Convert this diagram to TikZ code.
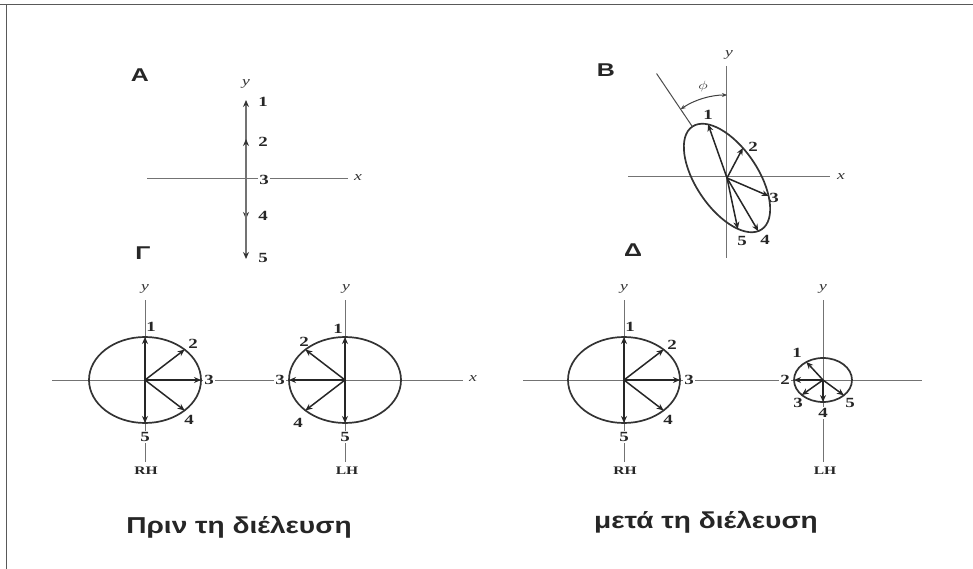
\documentclass[tikz,border=0pt]{standalone}
\usepackage{fontspec}
\setmainfont{Liberation Serif}
\newfontfamily\capfont{Liberation Sans}
\usetikzlibrary{arrows.meta}
\newcommand{\wx}[1]{\scalebox{1.35}[1]{#1}}
\newcommand{\wc}[1]{\scalebox{1.22}[1]{#1}}
\begin{document}
\begin{tikzpicture}[x=1pt,y=1pt,
 frame/.style={draw=black!65, line width=1.8pt},
 axis/.style={draw=black!55, line width=1pt},
 curve/.style={draw=black!80, line width=1.7pt},
 vec/.style={draw=black!85, line width=1.5pt, -{Stealth[length=7pt,width=6pt]}},
 vecA/.style={draw=black!55, line width=2.6pt, -{Stealth[length=7pt,width=6pt,color=black!80]}, shorten >=-1pt},
 thinl/.style={draw=black!70, line width=1pt},
 arcst/.style={draw=black!75, line width=1pt, {Stealth[length=5pt,width=4pt]}-{Stealth[length=5pt,width=4pt]}},
 num/.style={font=\fontsize{14}{14}\selectfont\bfseries, inner sep=1pt, text=black!85},
 numw/.style={num, fill=white},
 ax/.style={font=\fontsize{13}{13}\selectfont\itshape, inner sep=1pt, text=black!80},
 hand/.style={font=\fontsize{11.5}{11.5}\selectfont\bfseries, inner sep=1pt, text=black!85},
 panel/.style={font=\capfont\fontsize{18.5}{18.5}\selectfont\bfseries, inner sep=0pt, text=black!85},
 captext/.style={font=\capfont\fontsize{23}{23}\selectfont\bfseries, inner sep=0pt, text=black!85},
]
\useasboundingbox (0,0) rectangle (973,-569);
\fill[white] (0,0) rectangle (973,-569);

% frame
\coordinate (fTL) at (0,-4.5);
\coordinate (fTR) at (973,-4.5);
\coordinate (fLT) at (6.5,-4.5);
\coordinate (fLB) at (6.5,-569);
\draw[frame] (fTL) -- (fTR);
\draw[frame] (fLT) -- (fLB);

% ---------------- Panel A ----------------
\coordinate (AO) at (246,-179);
\coordinate (AxL) at (147,-179);
\coordinate (AxR) at (348,-179);
\coordinate (A1) at (246,-101);
\coordinate (A2) at (246,-140);
\coordinate (A4) at (246,-218);
\coordinate (A5) at (246,-258);
\draw[axis] (AxL) -- (AxR);
\draw[vecA] (AO) -- (A1);
\draw[vecA] (AO) -- (A2);
\draw[vecA] (AO) -- (A4);
\draw[vecA] (AO) -- (A5);
\node[panel] (pA) at (140,-75) {\wx{A}};
\node[ax] (Ay) at (246,-84) {\wx{y}};
\node[ax] (Ax) at (358,-178) {\wx{x}};
\node[num] (la1) at (263,-102) {\wx{1}};
\node[num] (la2) at (263,-142) {\wx{2}};
\node[numw] (la3) at (264,-180) {\wx{3}};
\node[num] (la4) at (263,-216) {\wx{4}};
\node[num] (la5) at (263,-258) {\wx{5}};

% ---------------- Panel B ----------------
\coordinate (BxL) at (628,-177);
\coordinate (BxR) at (830,-177);
\coordinate (ByT) at (726,-66);
\coordinate (ByB) at (726,-258);
\draw[axis] (BxL) -- (BxR);
\draw[axis] (ByT) -- (ByB);
\begin{scope}[shift={(727,-178)}, rotate=-56]
 \coordinate (BO) at (0,0);
 \draw[curve] (BO) ellipse [x radius=62, y radius=31];
 \coordinate (B1) at (152.5:62 and 31);
 \coordinate (B2) at (105:62 and 31);
 \coordinate (B3) at (52:62 and 31);
 \coordinate (B4) at (-7:62 and 31);
 \coordinate (B5) at (-39:62 and 31);
 \coordinate (Btop) at (-62,0);
 \coordinate (Bfar) at (-126,0);
\end{scope}
\draw[thinl] (Btop) -- (Bfar);
\draw[vec] (BO) -- (B1);
\draw[vec] (BO) -- (B2);
\draw[vec] (BO) -- (B3);
\draw[vec] (BO) -- (B4);
\draw[vec] (BO) -- (B5);
\coordinate (phiS) at (680.6,-109.2);
\draw[arcst] (phiS) arc[start angle=124, end angle=90, radius=83];
\node[ax] (phi) at (703,-87) {\wx{$\phi$}};
\node[panel] (pB) at (606,-70) {\wx{B}};
\node[ax] (By) at (729,-55) {\wx{y}};
\node[ax] (Bx) at (841,-177) {\wx{x}};
\node[num] (lb1) at (708,-115) {\wx{1}};
\node[num] (lb2) at (753,-147) {\wx{2}};
\node[num] (lb3) at (774,-198) {\wx{3}};
\node[num] (lb4) at (765,-240) {\wx{4}};
\node[num] (lb5) at (742,-241) {\wx{5}};

% ---------------- Panel Gamma ----------------
\node[panel] (pG) at (143,-253) {\wx{Γ}};
\coordinate (GxL) at (52,-380);
\coordinate (GxR) at (463,-380);
\draw[axis] (GxL) -- (GxR);
\node[ax] (Gx) at (473,-379) {\wx{x}};
% RH
\coordinate (GRyT) at (145,-300);
\coordinate (GRyB) at (145,-462);
\draw[axis] (GRyT) -- (GRyB);
\begin{scope}[shift={(145,-380)}]
 \coordinate (GRO) at (0,0);
 \draw[curve] (GRO) ellipse [x radius=56, y radius=43];
 \coordinate (GR1) at (90:56 and 43);
 \coordinate (GR2) at (45:56 and 43);
 \coordinate (GR3) at (0:56 and 43);
 \coordinate (GR4) at (-45:56 and 43);
 \coordinate (GR5) at (-90:56 and 43);
\end{scope}
\foreach \k in {1,...,5} {\draw[vec] (GRO) -- (GR\k);}
\node[ax] (GRy) at (145,-289) {\wx{y}};
\node[num] (lgr1) at (151,-327) {\wx{1}};
\node[num] (lgr2) at (193,-344) {\wx{2}};
\node[numw] (lgr3) at (209,-380) {\wx{3}};
\node[num] (lgr4) at (189,-420) {\wx{4}};
\node[numw] (lgr5) at (145,-437) {\wx{5}};
\node[hand] (GRH) at (146,-471) {\wx{RH}};
% LH
\coordinate (GLyT) at (345,-300);
\coordinate (GLyB) at (345,-462);
\draw[axis] (GLyT) -- (GLyB);
\begin{scope}[shift={(345,-380)}]
 \coordinate (GLO) at (0,0);
 \draw[curve] (GLO) ellipse [x radius=56, y radius=43];
 \coordinate (GL1) at (90:56 and 43);
 \coordinate (GL2) at (135:56 and 43);
 \coordinate (GL3) at (180:56 and 43);
 \coordinate (GL4) at (225:56 and 43);
 \coordinate (GL5) at (270:56 and 43);
\end{scope}
\foreach \k in {1,...,5} {\draw[vec] (GLO) -- (GL\k);}
\node[ax] (GLy) at (346,-289) {\wx{y}};
\node[num] (lgl1) at (338,-329) {\wx{1}};
\node[num] (lgl2) at (304,-342) {\wx{2}};
\node[numw] (lgl3) at (280,-380) {\wx{3}};
\node[num] (lgl4) at (298,-423) {\wx{4}};
\node[numw] (lgl5) at (345,-437) {\wx{5}};
\node[hand] (GLH) at (347,-471) {\wx{LH}};

% ---------------- Panel Delta ----------------
\node[panel] (pD) at (633,-250) {\wx{Δ}};
\coordinate (DxL) at (523,-380);
\coordinate (DxR) at (922,-380);
\draw[axis] (DxL) -- (DxR);
% RH
\coordinate (DRyT) at (624,-300);
\coordinate (DRyB) at (624,-462);
\draw[axis] (DRyT) -- (DRyB);
\begin{scope}[shift={(624,-380)}]
 \coordinate (DRO) at (0,0);
 \draw[curve] (DRO) ellipse [x radius=56, y radius=43];
 \coordinate (DR1) at (90:56 and 43);
 \coordinate (DR2) at (45:56 and 43);
 \coordinate (DR3) at (0:56 and 43);
 \coordinate (DR4) at (-45:56 and 43);
 \coordinate (DR5) at (-90:56 and 43);
\end{scope}
\foreach \k in {1,...,5} {\draw[vec] (DRO) -- (DR\k);}
\node[ax] (DRy) at (624,-289) {\wx{y}};
\node[num] (ldr1) at (630,-327) {\wx{1}};
\node[num] (ldr2) at (672,-345) {\wx{2}};
\node[numw] (ldr3) at (689,-380) {\wx{3}};
\node[num] (ldr4) at (668,-420) {\wx{4}};
\node[numw] (ldr5) at (624,-437) {\wx{5}};
\node[hand] (DRH) at (625,-471) {\wx{RH}};
% LH
\coordinate (DLyT) at (823,-300);
\coordinate (DLyB) at (823,-462);
\draw[axis] (DLyT) -- (DLyB);
\begin{scope}[shift={(823,-380)}]
 \coordinate (DLO) at (0,0);
 \draw[curve] (DLO) ellipse [x radius=29, y radius=22];
 \coordinate (DL1) at (125:29 and 22);
 \coordinate (DL2) at (180:29 and 22);
 \coordinate (DL3) at (223:29 and 22);
 \coordinate (DL4) at (270:29 and 22);
 \coordinate (DL5) at (316:29 and 22);
\end{scope}
\foreach \k in {1,...,5} {\draw[vec] (DLO) -- (DL\k);}
\node[ax] (DLy) at (823,-289) {\wx{y}};
\node[num] (ldl1) at (797,-353) {\wx{1}};
\node[numw] (ldl2) at (785,-380) {\wx{2}};
\node[num] (ldl3) at (798,-403) {\wx{3}};
\node[numw] (ldl4) at (823,-413) {\wx{4}};
\node[num] (ldl5) at (850,-403) {\wx{5}};
\node[hand] (DLH) at (825,-471) {\wx{LH}};

% captions
\node[captext] (cap1) at (239,-527) {\wc{Πριν τη διέλευση}};
\node[captext] (cap2) at (706,-522) {\wc{μετά τη διέλευση}};
\end{tikzpicture}
\end{document}
